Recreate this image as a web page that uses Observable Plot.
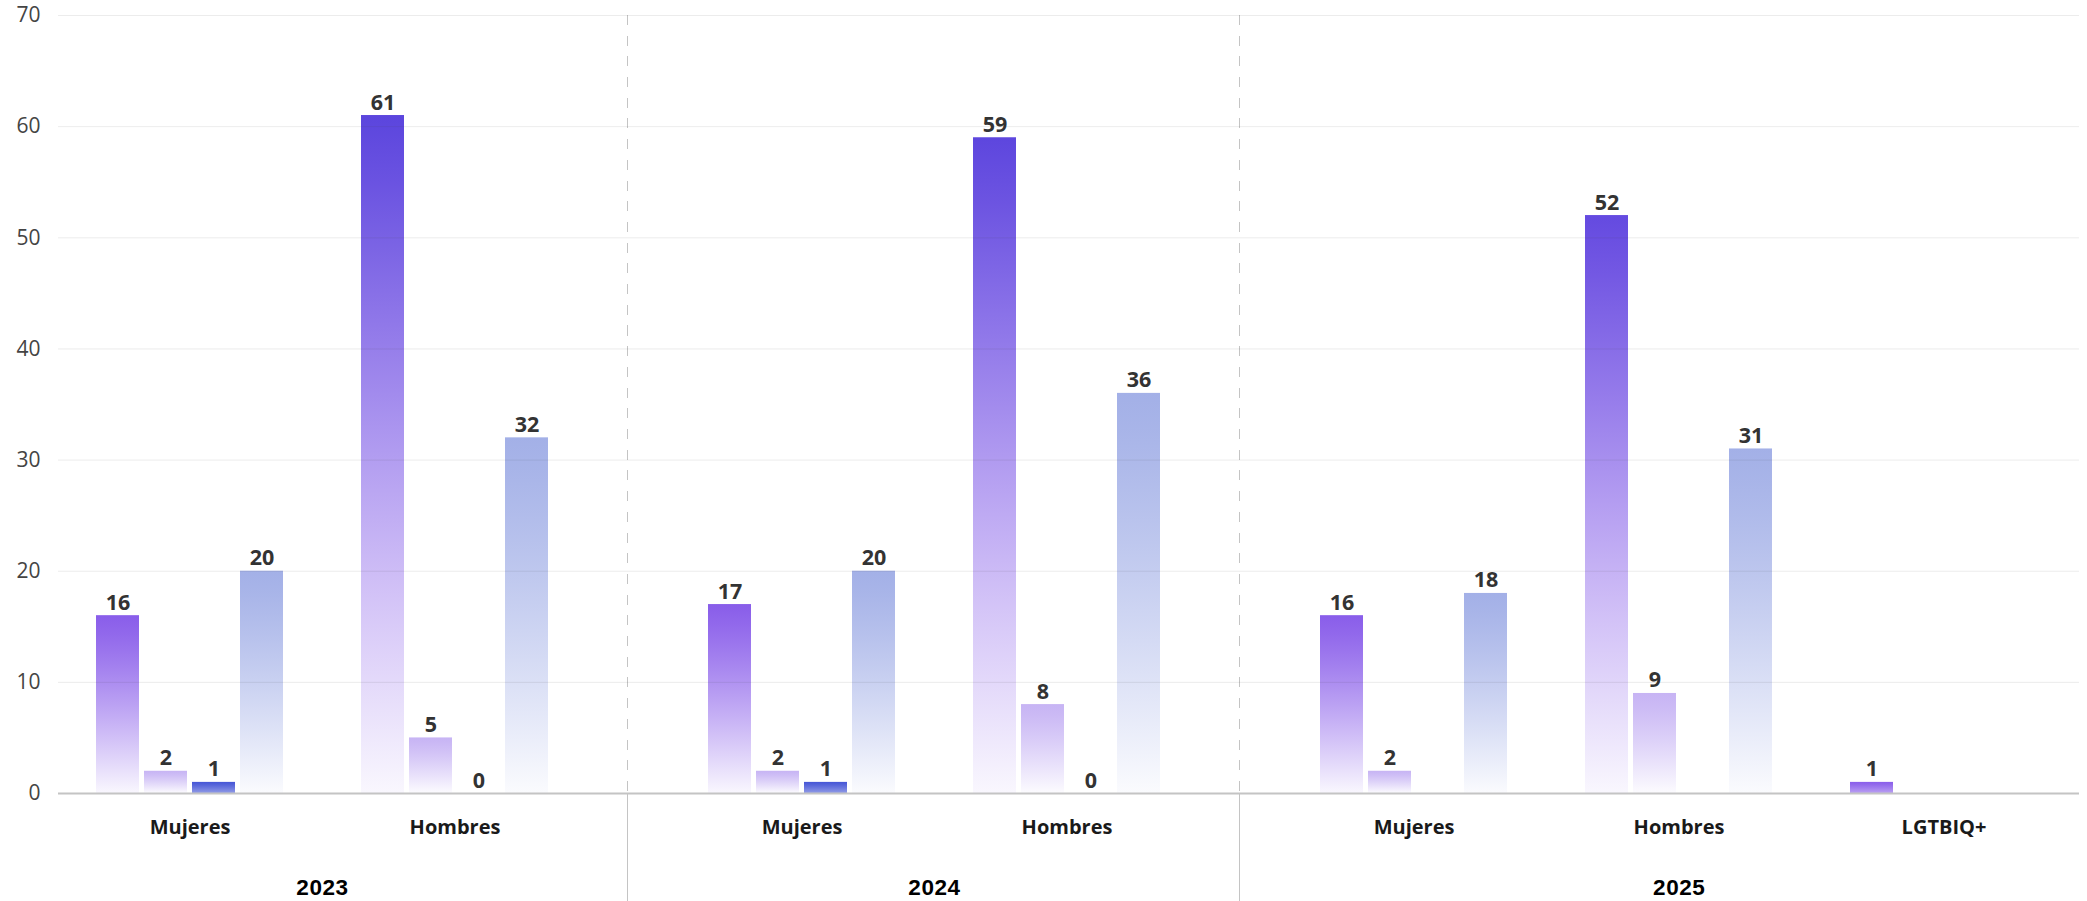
<!DOCTYPE html>
<html lang="es">
<head>
<meta charset="utf-8">
<title>Casos por año y categoría</title>
<script src="https://cdn.jsdelivr.net/npm/d3@7"></script>
<script src="https://cdn.jsdelivr.net/npm/@observablehq/plot@0.6"></script>
<style>
  html, body { margin: 0; padding: 0; background: #fff; overflow: hidden; }
  #chart { position: relative; width: 2087px; height: 901px; overflow: hidden; }
  .panel { position: absolute; top: 0; height: 901px; }
  .panel svg, #axes svg { display: block; max-width: none; }
  #axes { position: absolute; left: 0; top: 0; pointer-events: none; }
  .sep-dash, .sep-solid { position: absolute; left: -1px; width: 1.5px; }
  .sep-dash {
    top: 15px; height: 778px;
    background: repeating-linear-gradient(to bottom, #c4c4c4 0 10px, transparent 10px 20.7px);
  }
  .sep-solid { top: 793px; height: 108px; background: #c4c4c4; }
  .year-label { letter-spacing: 0.6px; }
</style>
</head>
<body>
<div id="chart"></div>
<script>
// ---- data ---------------------------------------------------------------
const years = ["2023", "2024", "2025"];
const groupYears = ["2023", "2023", "2024", "2024", "2025", "2025", "2025"];
const groupCategories = ["Mujeres", "Hombres", "Mujeres", "Hombres", "Mujeres", "Hombres", "LGTBIQ+"];
// one value per group above; null = no bar and no label
const serieA = [16, 61, 17, 59, 16, 52, 1];
const serieB = [2, 5, 2, 8, 2, 9, null];
const serieC = [1, 0, 1, 0, null, null, null];
const serieD = [20, 32, 20, 36, 18, 31, null];
const yTicks = [0, 10, 20, 30, 40, 50, 60, 70];

// ---- layout -------------------------------------------------------------
const W = 2087, H = 901;
const marginTop = 15, marginBottom = 108, plotLeft = 58, plotRightMargin = 8;
const outerPad = 131;        // first category centre from the left edge of the plot
const catStep = 265.5;       // distance between categories within a year
const yearGap = 346.5;       // distance between categories across a year boundary
const barWidth = 43, barStep = 48;
const bandwidth = 3 * barStep + barWidth;
const fontBody = "'Open Sans', 'Noto Sans', sans-serif";

// ---- styles -------------------------------------------------------------
const seriesList = [serieA, serieB, serieC, serieD];
const hueA = d3.scaleLinear().domain([15, 61]).range(["#8a5eea", "#5b45dd"]).clamp(true);
const flatColors = [null, "#c7b4f4", "#4656d6", "#a3b0e7"];
const fade = u => 1 - 0.95 * Math.pow(u, 1.2);

const rows = [];
groupCategories.forEach((category, i) => {
  seriesList.forEach((vals, k) => {
    const value = vals[i];
    if (value == null) return;
    rows.push({year: groupYears[i], category, series: k, value, gid: `bar-${i}-${k}`});
  });
});

const NS = "http://www.w3.org/2000/svg";
function gradientDefs(list) {
  const defs = document.createElementNS(NS, "defs");
  for (const r of list) {
    if (!(r.value > 0)) continue;
    const lg = document.createElementNS(NS, "linearGradient");
    lg.setAttribute("id", r.gid);
    lg.setAttribute("x1", 0); lg.setAttribute("y1", 0);
    lg.setAttribute("x2", 0); lg.setAttribute("y2", 1);
    const reach = Math.min(1, r.value / 2);
    const n = 10;
    for (let j = 0; j <= n; j++) {
      const o = j / n;
      const base = r.series === 0 ? hueA(r.value * (1 - o)) : flatColors[r.series];
      const stop = document.createElementNS(NS, "stop");
      stop.setAttribute("offset", o);
      stop.setAttribute("stop-color", base);
      stop.setAttribute("stop-opacity", fade(o * reach).toFixed(3));
      lg.appendChild(stop);
    }
    defs.appendChild(lg);
  }
  return defs;
}

const root = document.getElementById("chart");

// ---- one panel per year -------------------------------------------------
let left = plotLeft + outerPad - yearGap / 2;
years.forEach((year, yi) => {
  const cats = Array.from(new Set(groupCategories.filter((c, i) => groupYears[i] === year)));
  const width = (cats.length - 1) * catStep + yearGap;
  const data = rows.filter(r => r.year === year);

  const bars = [0, 1, 2, 3].map(k => Plot.barY(data.filter(r => r.series === k && r.value > 0), {
    x: "category",
    y: "value",
    fill: r => `url(#${r.gid})`,
    insetLeft: k * barStep,
    insetRight: (3 - k) * barStep
  }));
  const labels = [0, 1, 2, 3].map(k => Plot.text(data.filter(r => r.series === k), {
    x: "category",
    y: "value",
    text: r => String(r.value),
    dx: k * barStep + barWidth / 2 - bandwidth / 2,
    dy: -6,
    lineAnchor: "bottom",
    fontSize: 21.5,
    fontWeight: 700,
    fill: "#333"
  }));

  const svg = Plot.plot({
    width, height: H,
    marginTop, marginBottom, marginLeft: 0, marginRight: 0,
    style: {background: "transparent", fontFamily: fontBody, overflow: "visible"},
    x: {domain: cats, paddingInner: 1 - bandwidth / catStep, paddingOuter: (yearGap / 2 - bandwidth / 2) / catStep, align: 0.5, axis: null},
    y: {domain: [0, 70], axis: null},
    color: {type: "identity"},
    marks: [
      ...bars,
      ...labels,
      Plot.text(cats, {x: d => d, frameAnchor: "bottom", lineAnchor: "top", dy: 26, fontSize: 20, fontWeight: 700, fill: "#1a1a1a"}),
      Plot.text([year], {frameAnchor: "bottom", lineAnchor: "top", dy: 86, fontSize: 22.5, fontWeight: 700, fontFamily: "'Liberation Sans', Arial, sans-serif", fill: "#000", className: "year-label"})
    ]
  });
  svg.insertBefore(gradientDefs(data), svg.firstChild);

  const div = document.createElement("div");
  div.className = "panel";
  div.style.left = `${left}px`;
  div.style.width = `${width}px`;
  div.appendChild(svg);
  if (yi > 0) {
    const dash = document.createElement("div"); dash.className = "sep-dash";
    const solid = document.createElement("div"); solid.className = "sep-solid";
    div.appendChild(dash); div.appendChild(solid);
  }
  root.appendChild(div);
  left += width;
});

// ---- shared value axis, grid and baseline (drawn over the bars) --------
const axes = Plot.plot({
  width: W, height: H,
  marginTop, marginBottom, marginLeft: plotLeft, marginRight: plotRightMargin,
  style: {background: "transparent", fontFamily: fontBody, fontSize: "21px", color: "#444"},
  y: {domain: [0, 70], ticks: yTicks, grid: true, tickSize: 0, tickPadding: 18, label: null},
  marks: [
    Plot.ruleY([0], {stroke: "#c4c4c4", strokeWidth: 2})
  ]
});
const axesDiv = document.createElement("div");
axesDiv.id = "axes";
axesDiv.appendChild(axes);
root.appendChild(axesDiv);
</script>
</body>
</html>
